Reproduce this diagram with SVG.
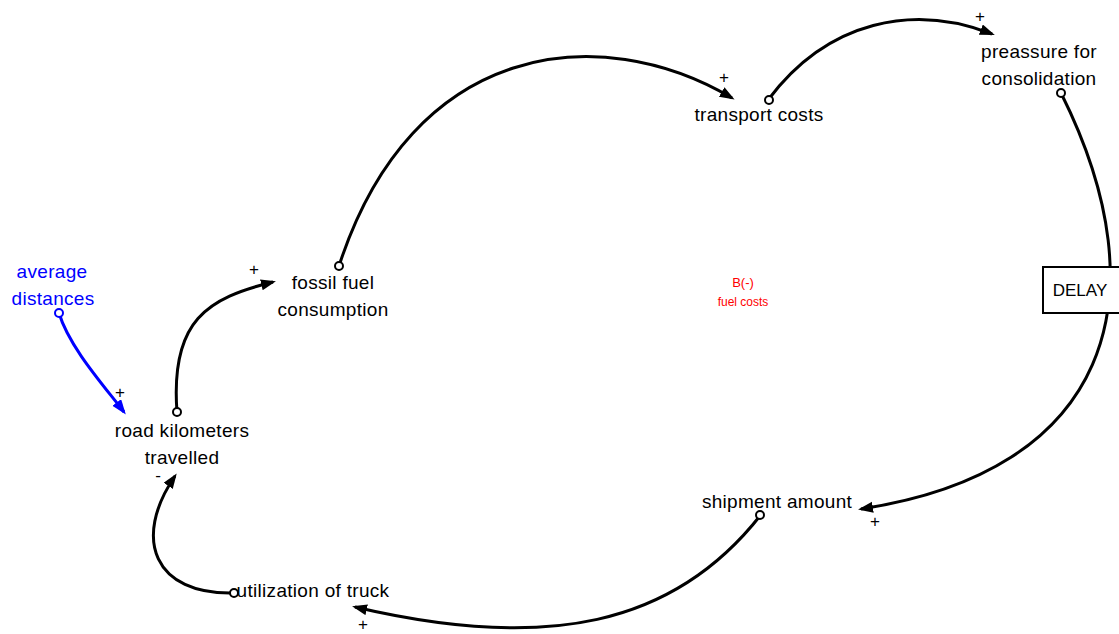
<svg xmlns="http://www.w3.org/2000/svg" width="1119" height="634" viewBox="0 0 1119 634">
<style>
  .lbl{font-family:"Liberation Sans",Arial,sans-serif;font-size:19px;fill:#000;text-anchor:middle;letter-spacing:0.3px}
  .blue{fill:#0000ff}
  .pol{font-family:"Liberation Sans",Arial,sans-serif;font-size:17px;text-anchor:middle;fill:#000}
  .link{fill:none;stroke:#000;stroke-width:3;marker-end:url(#ah)}
  .linkb{fill:none;stroke:#0000ff;stroke-width:3;marker-end:url(#ahb)}
  .tail{fill:#fff;stroke:#000;stroke-width:2}
  .tailb{fill:#fff;stroke:#0000ff;stroke-width:2}
  .loop{font-family:"Liberation Sans",Arial,sans-serif;fill:#ff0000;text-anchor:middle}
</style>
<defs>
  <marker id="ah" markerUnits="userSpaceOnUse" markerWidth="17" markerHeight="12" refX="12" refY="5.5" orient="auto">
    <path d="M0,0 L15,5.5 L0,11 z" fill="#000"/>
  </marker>
  <marker id="ahb" markerUnits="userSpaceOnUse" markerWidth="17" markerHeight="12" refX="12" refY="5.5" orient="auto">
    <path d="M0,0 L15,5.5 L0,11 z" fill="#0000ff"/>
  </marker>
</defs>
<rect width="1119" height="634" fill="#fff"/>
<g id="connectors">
  <path class="linkb" d="M59,313 C69,347 105,387 124,412"/>
  <path class="link" d="M177,412 C170,320 208,298 273,282"/>
  <path class="link" d="M339,266 C412,40 600,20 732,98"/>
  <path class="link" d="M768,100 C828,20 914,3.5 992,34"/>
  <path class="link" d="M1061,93 C1164.5,300 1108,471.5 861,509"/>
  <path class="link" d="M760.7,515 C674,625.6 546.7,652 355,607"/>
  <path class="link" d="M234,593 C154,595 132,539 175,476"/>
  <circle class="tailb" cx="59" cy="313" r="4"/>
  <circle class="tail" cx="177" cy="412" r="4"/>
  <circle class="tail" cx="339" cy="266" r="4"/>
  <circle class="tail" cx="769" cy="100" r="4"/>
  <circle class="tail" cx="1061" cy="93" r="4"/>
  <circle class="tail" cx="760" cy="515" r="4"/>
  <circle class="tail" cx="234" cy="593" r="4"/>
  <text class="pol blue" x="120" y="398">+</text>
  <text class="pol" x="254" y="275">+</text>
  <text class="pol" x="724" y="83">+</text>
  <text class="pol" x="980" y="22">+</text>
  <text class="pol" x="875" y="527">+</text>
  <text class="pol" x="363" y="630">+</text>
  <text class="pol" x="158" y="481">-</text>
</g>
<g id="average-distances">
  <text class="lbl blue" x="52" y="278">average</text>
  <text class="lbl blue" x="53" y="305">distances</text>
</g>
<g id="road-kilometers">
  <text class="lbl" x="182" y="437">road kilometers</text>
  <text class="lbl" x="182" y="464">travelled</text>
</g>
<g id="fossil-fuel">
  <text class="lbl" x="333" y="289">fossil fuel</text>
  <text class="lbl" x="333" y="316">consumption</text>
</g>
<g id="transport-costs">
  <text class="lbl" x="759" y="121">transport costs</text>
</g>
<g id="preassure">
  <text class="lbl" x="1039" y="58">preassure for</text>
  <text class="lbl" x="1039" y="85">consolidation</text>
</g>
<g id="delay">
  <rect x="1043" y="267" width="90" height="46" fill="#fff" stroke="#000" stroke-width="2"/>
  <text class="lbl" x="1080" y="296" style="font-size:17px;letter-spacing:0">DELAY</text>
</g>
<g id="shipment-amount">
  <text class="lbl" x="777" y="508">shipment amount</text>
</g>
<g id="utilization">
  <text class="lbl" x="313" y="597">utilization of truck</text>
</g>
<g id="loop">
  <text class="loop" x="743" y="287" style="font-size:13px">B(-)</text>
  <text class="loop" x="743" y="306" style="font-size:12px">fuel costs</text>
</g>
</svg>
